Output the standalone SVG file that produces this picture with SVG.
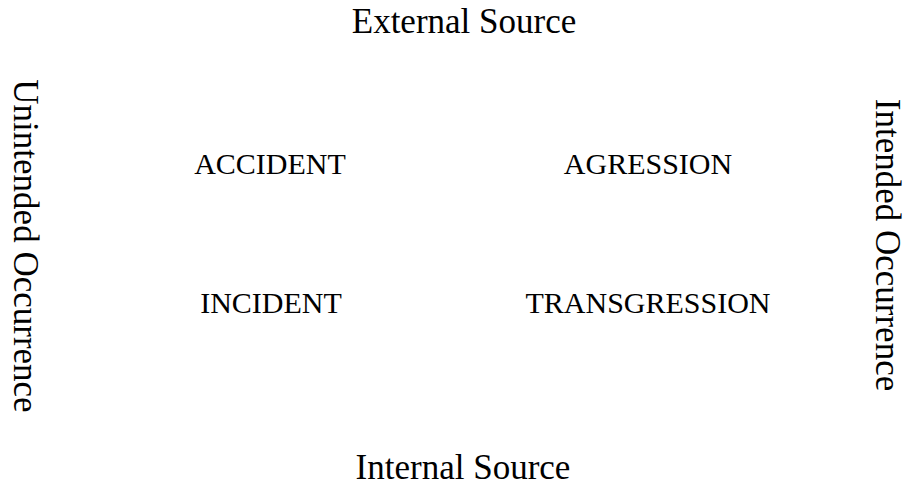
<svg xmlns="http://www.w3.org/2000/svg" width="912" height="488" viewBox="0 0 912 488">
<style>
text{font-family:"Liberation Serif","Times New Roman",serif;fill:#000;text-anchor:middle}
.axis{font-size:35px}
.quad{font-size:30px}
</style>
<rect width="912" height="488" fill="#fff"/>
<g id="external-source"><text class="axis" x="464" y="33">External Source</text></g>
<g id="internal-source"><text class="axis" x="463" y="479">Internal Source</text></g>
<g id="unintended-occurrence"><text class="axis" transform="translate(14,246) rotate(90)">Unintended Occurrence</text></g>
<g id="intended-occurrence"><text class="axis" transform="translate(876,245) rotate(90)">Intended Occurrence</text></g>
<g id="accident"><text class="quad" x="270" y="174">ACCIDENT</text></g>
<g id="agression"><text class="quad" x="648" y="174">AGRESSION</text></g>
<g id="incident"><text class="quad" x="271" y="313">INCIDENT</text></g>
<g id="transgression"><text class="quad" x="648" y="313">TRANSGRESSION</text></g>
<g id="connectors"></g>
</svg>
